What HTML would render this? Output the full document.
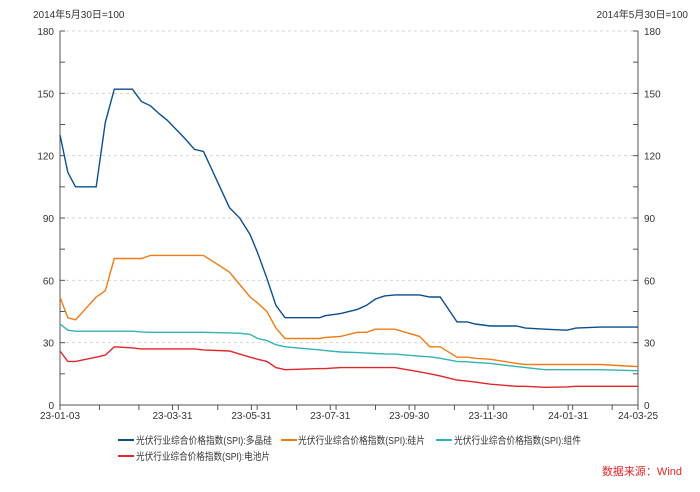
<!DOCTYPE html>
<html><head><meta charset="utf-8"><style>
body{margin:0;background:#fff;}
svg text{font-family:"Liberation Sans","Noto Sans CJK SC",sans-serif;font-size:10px;fill:#333;}
</style></head><body>
<svg id="chart" width="700" height="487" xmlns="http://www.w3.org/2000/svg">
<text x="33" y="18">2014年5月30日=100</text>
<text x="688" y="18" text-anchor="end">2014年5月30日=100</text>
<g id="grid"></g><g id="axes"></g><g id="series"></g>
<g>
<g><line x1="118" y1="440" x2="134" y2="440" stroke="#0b4f8c" stroke-width="2"/><text x="136" y="444" textLength="136" lengthAdjust="spacingAndGlyphs">光伏行业综合价格指数(SPI):多晶硅</text></g>
<g><line x1="281" y1="440" x2="297" y2="440" stroke="#f07c13" stroke-width="2"/><text x="298" y="444" textLength="127" lengthAdjust="spacingAndGlyphs">光伏行业综合价格指数(SPI):硅片</text></g>
<g><line x1="436" y1="440" x2="452" y2="440" stroke="#2fb3b3" stroke-width="2"/><text x="454" y="444" textLength="127" lengthAdjust="spacingAndGlyphs">光伏行业综合价格指数(SPI):组件</text></g>
<g><line x1="118" y1="456" x2="134" y2="456" stroke="#e0262b" stroke-width="2"/><text x="136" y="460" textLength="134" lengthAdjust="spacingAndGlyphs">光伏行业综合价格指数(SPI):电池片</text></g>
</g>
<text x="682" y="475" text-anchor="end" style="fill:#e0262b;font-size:11px">数据来源：Wind</text>
</svg>
<script>
const dayOffsets=[0,6,12,28,35,42,56,63,70,77,83,97,104,111,131,139,147,153,160,167,174,201,205,217,230,237,244,251,259,278,286,294,307,315,321,333,353,360,375,392,399,418,447];
const polysilicon=[130,112,105,105,136,152,152,146,144,140,137,128,123,122,95,90,82,73,61,48,42,42,43,44,46,48,51,52.5,53,53,52,52,40,40,39,38,38,37,36.5,36,37,37.5,37.5];
const wafer=[52,42,41,52,55,70.5,70.5,70.5,72,72,72,72,72,72,64,58,52,49,45,37,32,32,32.5,33,35,35,36.5,36.5,36.5,33,28,28,23,23,22.5,22,20,19.5,19.5,19.5,19.5,19.5,18.5];
const modulePrice=[39,36,35.5,35.5,35.5,35.5,35.5,35.2,35,35,35,35,35,35,34.7,34.5,34,32,31,29,28,26.5,26.2,25.5,25.2,25,24.8,24.6,24.5,23.5,23.2,22.5,21,20.8,20.5,20,18.5,18,17,17,17,17,16.5];
const cell=[26,21,21,23,24,28,27.5,27,27,27,27,27,27,26.5,26,24.5,23,22,21,18,17,17.5,17.5,18,18,18,18,18,18,16,15,14,12,11.5,11,10,9,9,8.5,8.7,9,9,9];
const yTicks=[0,30,60,90,120,150,180];
const xLabels=["23-01-03","23-03-31","23-05-31","23-07-31","23-09-30","23-11-30","24-01-31","24-03-25"];
const X0=60,X1=638,Y0=405,Y1=31,DMAX=447;
const base=Date.UTC(2023,0,3);
function xs(d){return X0+(X1-X0)*d/DMAX;}
function ys(v){return Y0-(Y0-Y1)*v/180;}
function dayOf(s){const p=s.split('-');return (Date.UTC(2000+ +p[0],+p[1]-1,+p[2])-base)/86400000;}
const NS="http://www.w3.org/2000/svg";
function mk(tag,attrs,parent){const e=document.createElementNS(NS,tag);for(const k in attrs)e.setAttribute(k,attrs[k]);parent.appendChild(e);return e;}
const grid=document.getElementById('grid'),axes=document.getElementById('axes'),ser=document.getElementById('series');
yTicks.forEach(v=>{
 if(v>0){const g=mk('line',{x1:X0,x2:X1,y1:ys(v),y2:ys(v),stroke:'#d6d6d6','stroke-dasharray':'3,3'},grid);
 
 }
 const t1=mk('text',{x:X0-6,y:ys(v)+4,'text-anchor':'end'},axes);t1.textContent=v;
 
 
 const t2=mk('text',{x:X1+6,y:ys(v)+4},axes);t2.textContent=v;
 
 
});
for(let v=0;v<=180;v+=15){mk('line',{x1:X0,x2:X0+5,y1:ys(v),y2:ys(v),stroke:'#555'},axes);mk('line',{x1:X1-5,x2:X1,y1:ys(v),y2:ys(v),stroke:'#555'},axes);}
mk('line',{x1:X0,x2:X0,y1:Y1,y2:Y0,stroke:'#555'},axes);
mk('line',{x1:X1,x2:X1,y1:Y1,y2:Y0,stroke:'#555'},axes);
mk('line',{x1:X0,x2:X1,y1:Y0,y2:Y0,stroke:'#555'},axes);
for(let i=1;i<15;i++){const x=X0+i*(X1-X0)*30.5/DMAX;if(x<X1)mk('line',{x1:x,x2:x,y1:Y0,y2:Y0+5,stroke:'#555'},axes);}
xLabels.forEach(s=>{const t=mk('text',{x:xs(dayOf(s)),y:Y0+14,'text-anchor':'middle'},axes);t.textContent=s;
 
 
 mk('line',{x1:xs(dayOf(s)),x2:xs(dayOf(s)),y1:Y0,y2:Y0+5,stroke:'#555'},axes);});
[[modulePrice,'#2fb3b3','module-line'],[cell,'#e0262b','cell-line'],[wafer,'#f07c13','wafer-line'],[polysilicon,'#0b4f8c','polysilicon-line']].forEach(([vals,c,n])=>{
 const d=vals.map((v,i)=>(i?'L':'M')+xs(dayOffsets[i]).toFixed(1)+','+ys(v).toFixed(1)).join('');
 const p=mk('path',{d:d,fill:'none',stroke:c,'stroke-width':1.4},ser);
 
 
});
</script>
</body></html>
